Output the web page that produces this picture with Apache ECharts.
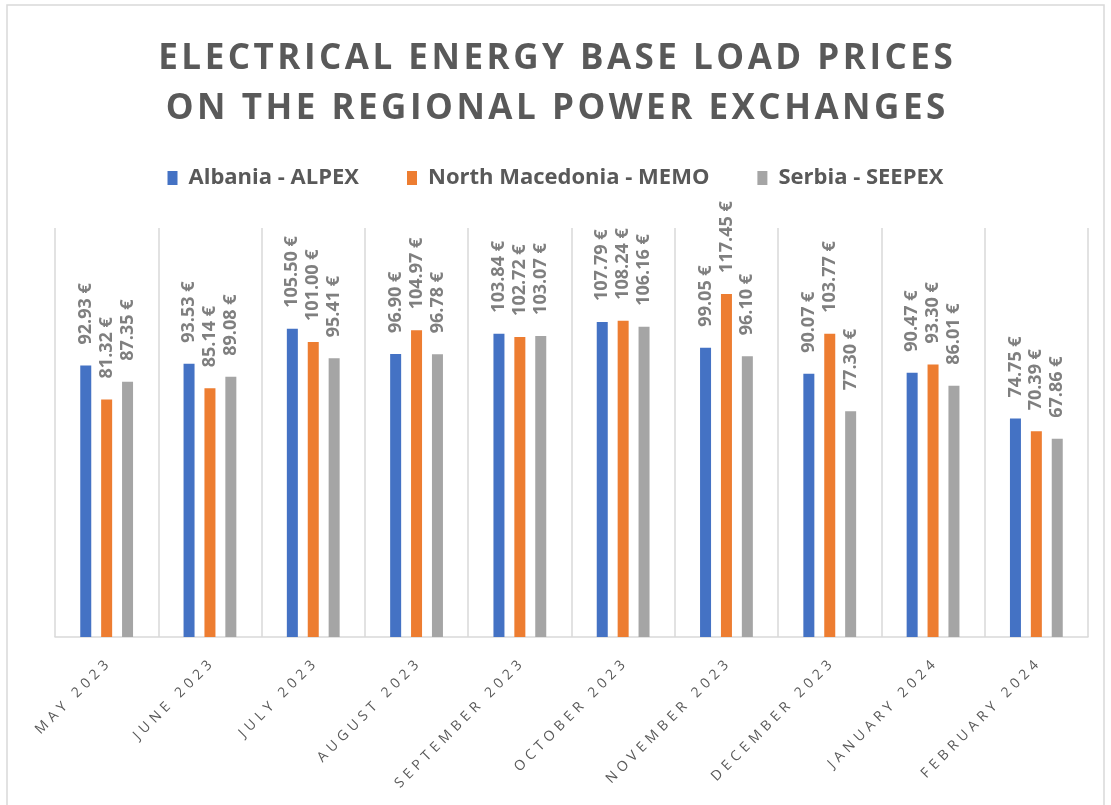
<!DOCTYPE html>
<html>
<head>
<meta charset="utf-8">
<script src="https://cdn.jsdelivr.net/npm/echarts@6/dist/echarts.min.js"></script>
<style>
  html, body { margin: 0; padding: 0; background: #fff; }
  #main { width: 1111px; height: 805px; }
</style>
</head>
<body>
<div id="main"></div>
<script>
var months = ['May 2023', 'June 2023', 'July 2023', 'August 2023', 'September 2023',
  'October 2023', 'November 2023', 'December 2023', 'January 2024', 'February 2024'];
var albania = [92.93, 93.53, 105.50, 96.90, 103.84, 107.79, 99.05, 90.07, 90.47, 74.75];
var macedonia = [81.32, 85.14, 101.00, 104.97, 102.72, 108.24, 117.45, 103.77, 93.30, 70.39];
var serbia = [87.35, 89.08, 95.41, 96.78, 103.07, 106.16, 96.10, 77.30, 86.01, 67.86];
var names = ['Albania - ALPEX', 'North Macedonia - MEMO', 'Serbia - SEEPEX'];
var colors = ['#4472C4', '#ED7D31', '#A5A5A5'];

// canvas has no letter-spacing, so pad chars with thin/hair spaces
function spaced(s, sep) {
  return s.split('').join(sep);
}

var myChart = echarts.init(document.getElementById('main'));

function barSeries(name, data, color) {
  return {
    name: name,
    type: 'bar',
    data: data,
    barWidth: 11,
    barGap: '90%',
    itemStyle: { color: color },
    label: {
      show: true,
      position: 'top',
      rotate: 90,
      align: 'left',
      verticalAlign: 'middle',
      distance: 21,
      color: '#7F7F7F',
      fontWeight: 'bold',
      fontSize: 18,
      fontFamily: 'Open Sans',
      formatter: function (p) {
        return p.value.toFixed(2) + ' €';
      }
    }
  };
}

var option = {
  backgroundColor: '#fff',
  animation: false,
  title: {
    text: spaced('ELECTRICAL ENERGY BASE LOAD PRICES', '\u200A') + '\n' +
      spaced('ON THE REGIONAL POWER EXCHANGES', '\u200A'),
    left: 'center',
    top: 29,
    textStyle: {
      color: '#595959',
      fontSize: 35,
      fontWeight: 'bold',
      fontFamily: 'Open Sans',
      lineHeight: 50
    }
  },
  legend: {
    data: names,
    top: 162,
    left: 'center',
    itemWidth: 10,
    itemHeight: 14,
    itemGap: 48,
    icon: 'rect',
    textStyle: {
      color: '#595959',
      fontSize: 22,
      fontWeight: 'bold',
      fontFamily: 'Open Sans',
      padding: [0, 0, 0, 6]
    }
  },
  graphic: [{
    type: 'rect',
    shape: { x: 7, y: 5, width: 1097, height: 830 },
    style: { fill: 'none', stroke: '#D9D9D9', lineWidth: 1.5 },
    silent: true
  }],
  grid: { left: 55, right: 23, top: 228, bottom: 168 },
  xAxis: {
    type: 'category',
    data: months,
    axisLine: { lineStyle: { color: '#D9D9D9', width: 1.5 } },
    axisTick: { show: false },
    splitLine: { show: true, lineStyle: { color: '#D9D9D9', width: 1.5 } },
    axisLabel: {
      interval: 0,
      rotate: 45,
      margin: 26,
      color: '#595959',
      fontSize: 14,
      fontFamily: 'Open Sans',
      formatter: function (v) {
        return spaced(v.toUpperCase(), '\u2009\u2009');
      }
    }
  },
  yAxis: {
    type: 'value',
    min: 0,
    max: 140,
    show: false,
    splitLine: { show: false }
  },
  series: [
    barSeries(names[0], albania, colors[0]),
    barSeries(names[1], macedonia, colors[1]),
    barSeries(names[2], serbia, colors[2])
  ]
};

myChart.setOption(option);
</script>
</body>
</html>
